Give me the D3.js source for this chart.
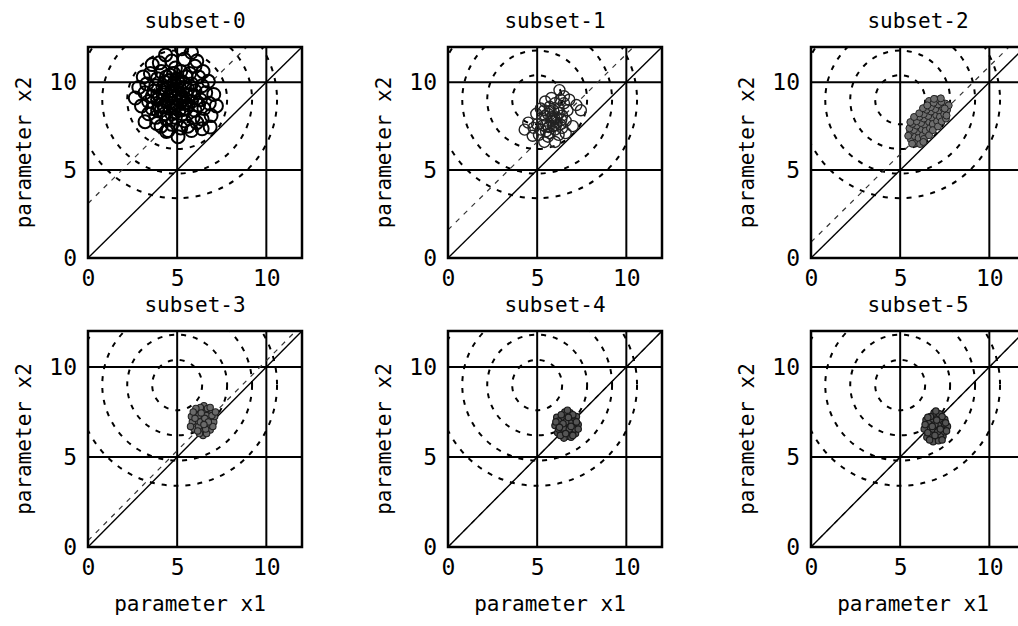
<!DOCTYPE html>
<html>
<head>
<meta charset="utf-8">
<script src="https://cdn.jsdelivr.net/npm/d3@7"></script>
<style>
  html, body { margin: 0; padding: 0; background: #fff; }
  svg { display: block; }
</style>
</head>
<body>
<script>
// ---------------- data ----------------
const subsetTitles = ["subset-0", "subset-1", "subset-2", "subset-3", "subset-4", "subset-5"];
const tickValues = [0, 5, 10];
const gridValues = [5, 10];
const axisDomain = [0, 12];
const contourCenter = [5, 9];
const contourRadii = [1.4, 2.8, 4.2, 5.6];
const thresholdOffsets = [3.1, 1.6, 0.9, 0.35, 0, 0];
const xLabel = "parameter x1";
const yLabel = "parameter x2";

const samplesSubset0 = [
  [3.1,10.3],[2.85,9.7],[2.65,9.1],[3.0,8.65],[3.2,7.75],[3.85,7.65],[4.5,7.25],[5.05,6.9],[5.8,7.25],[6.4,7.35],
  [6.85,7.45],[7.2,8.65],[7.05,9.3],[6.75,10.05],[6.45,10.6],[5.8,11.7],[4.35,11.55],[3.6,11.0],[5.25,11.9],[6.1,11.2],
  [3.4,8.2],[6.9,8.1],
  [4.0,11.1],[4.7,11.2],[5.4,11.3],[6.0,10.9],[4.9,10.8],
  [3.5,10.5],[4.1,10.6],[4.6,10.4],[5.2,10.6],[5.7,10.5],[6.2,10.3],[3.9,10.2],[5.0,10.2],
  [3.3,9.9],[3.8,9.8],[4.3,10.0],[4.8,9.9],[5.3,10.0],[5.8,9.9],[6.4,9.8],[4.5,9.7],[5.6,9.6],
  [3.2,9.4],[3.7,9.5],[4.2,9.4],[4.7,9.5],[5.1,9.4],[5.5,9.3],[6.0,9.5],[6.6,9.4],[4.0,9.2],[4.9,9.1],
  [3.4,8.9],[3.9,9.0],[4.4,8.9],[4.8,8.8],[5.3,9.0],[5.8,8.9],[6.3,9.0],[6.8,8.8],[4.6,9.2],[5.6,8.7],
  [3.6,8.5],[4.1,8.4],[4.6,8.5],[5.1,8.4],[5.5,8.5],[6.0,8.4],[6.5,8.5],[4.3,8.2],[5.3,8.2],
  [3.8,8.0],[4.4,7.9],[4.9,8.0],[5.4,7.8],[5.9,8.0],[6.4,7.9],[4.7,7.6],[5.6,7.5],[6.1,7.7],
  [4.1,7.5],[5.2,7.4],[4.4,7.2],
  [4.5,9.0],[5.0,9.6],[4.2,9.7],[5.4,9.7],[4.7,8.2],[5.0,8.7],[4.0,8.7],[5.9,9.2],[4.4,10.3],[5.5,10.3],
  [3.6,9.2],[6.2,8.7],[5.2,8.9],[4.8,10.5],[3.9,8.4],
  [4.65,9.35],[5.25,9.2],[4.85,8.55],[5.45,8.85],[4.35,9.55],[5.05,10.0],[4.55,10.1],[5.75,9.3],[4.25,8.65],[5.35,8.45]
];
const samplesSubset1 = [
  [6.25,9.55],[6.5,9.2],[6.8,9.0],[7.2,8.7],[7.45,8.4],[4.5,7.7],[4.3,7.3],[4.75,6.95],[5.4,6.6],[6.0,6.6],
  [6.6,7.1],[7.0,7.5],[4.95,8.2],[5.45,8.9],[5.8,9.1],
  [5.2,7.3],[5.5,7.6],[5.8,7.8],[6.1,8.0],[6.3,7.6],[5.6,8.2],[5.9,8.4],[6.2,8.5],[5.3,7.9],[5.0,7.6],
  [5.7,7.1],[6.0,7.3],[6.4,8.1],[6.6,7.8],[5.4,8.4],[5.9,7.5],[6.2,7.0],[5.1,7.0],[6.7,8.4],[5.6,6.9],
  [6.0,8.8],[5.2,8.5],[4.8,7.4],[6.5,8.8],[5.7,8.6],[6.3,9.0],[5.5,7.2],[6.1,7.7],[5.8,8.0],[6.4,7.4],
  [5.65,7.45],[5.95,7.95],[6.25,8.25],[5.35,7.55],[6.05,7.55],[5.75,8.35],[6.35,7.85],[5.45,8.1]
];
const samplesSubset2 = [
  [5.6,6.75],[5.82,6.93],[6.0,7.18],[6.21,7.33],[6.38,7.57],[6.62,7.74],[6.79,7.98],[7.02,8.13],[7.18,8.38],[7.41,8.53],[7.54,8.78],
  [5.55,7.12],[5.77,7.28],[5.93,7.53],[6.17,7.68],[6.33,7.93],[6.57,8.08],[6.73,8.33],[6.97,8.47],[7.13,8.73],[7.31,8.88],[7.02,9.02],[6.62,8.93],
  [5.82,6.53],[6.03,6.82],[6.27,6.98],[6.43,7.23],[6.67,7.38],[6.83,7.62],[7.07,7.78],[7.23,8.03],[7.47,8.18],[7.63,8.42],[7.72,8.68],
  [5.52,7.38],[5.68,7.63],[5.92,7.78],[6.08,8.03],[6.32,8.18],[6.48,8.43],[6.72,8.58],[6.88,8.83],[7.28,9.08],
  [6.12,6.48],[6.33,6.77],[6.62,6.98],[6.83,7.27],[7.12,7.48],[7.33,7.77],[7.57,7.93],
  [5.57,7.73],[5.78,8.02],[6.07,8.23],[6.28,8.52],[6.52,8.68],
  [5.45,6.95],[5.67,6.5],[6.3,6.6],[7.6,8.1],[6.9,9.05],[7.5,8.5]
];
const samplesSubset3 = [
  [6.43,7.0],[6.1,7.0],[6.8,7.05],[6.45,7.6],[6.4,6.4],[5.85,6.95],[7.05,6.95],[6.0,7.45],[6.9,7.5],[5.95,6.55],
  [6.85,6.5],[6.2,7.3],[6.65,7.3],[6.2,6.7],[6.7,6.75],[6.5,7.85],[6.45,6.2],[5.8,7.25],[7.1,7.25],[5.75,6.7],
  [7.0,6.7],[6.3,7.75],[6.7,7.7],[6.25,6.3],[6.65,6.3],[6.05,7.7],[6.95,7.3],[6.3,6.95],[6.55,7.15],[6.15,6.45],
  [6.75,6.95],[6.6,6.55],[6.0,7.15],[6.35,7.45],[6.85,7.75],[5.9,7.5],[6.5,6.8],[7.15,7.5]
];
const samplesSubset4 = [
  [6.67,6.77],[6.3,6.8],[7.05,6.75],[6.65,7.4],[6.7,6.15],[6.0,6.75],[7.3,6.8],[6.1,7.2],[7.2,7.25],[6.15,6.35],
  [7.15,6.3],[6.4,7.15],[6.95,7.15],[6.4,6.4],[6.95,6.4],[6.55,7.5],[6.85,7.45],[6.5,6.05],[6.9,6.1],[6.2,7.0],
  [7.1,7.0],[6.2,6.55],[7.1,6.55],[6.5,6.6],[6.85,6.9],[6.6,6.95],[6.8,6.55],[6.35,7.35],[7.0,7.35],[6.3,6.2],
  [7.0,6.2],[6.05,6.95],[7.3,6.55],[6.45,6.85],[6.75,7.2],[6.6,6.3],[6.9,6.7],[6.25,6.65],[7.2,6.95],[6.7,7.6]
];
const samplesSubset5 = [
  [7.0,6.6],[6.6,6.6],[7.4,6.65],[7.05,7.3],[6.95,5.95],[6.35,6.55],[7.65,6.7],[6.45,7.05],[7.5,7.1],[6.5,6.1],
  [7.4,6.15],[6.75,7.0],[7.25,6.95],[6.75,6.25],[7.25,6.25],[6.9,7.45],[7.2,7.4],[6.85,5.85],[7.15,5.9],[6.6,6.85],
  [7.45,6.85],[6.55,6.35],[7.5,6.4],[6.85,6.55],[7.15,6.75],[6.95,6.8],[7.1,6.4],[6.7,7.25],[7.35,7.25],[6.65,5.95],
  [7.35,5.95],[6.4,6.8],[7.6,6.45],[6.8,6.7],[7.05,7.05],[6.95,6.2],[7.25,6.55],[6.55,7.2],[7.55,6.9],[7.0,7.55]
];
const allSamples = [samplesSubset0, samplesSubset1, samplesSubset2, samplesSubset3, samplesSubset4, samplesSubset5];

// ---------------- layout / style ----------------
const W = 1018, H = 626;
const colLefts = [88, 448, 811];
const rowTops = [47, 331];
const rowHeights = [211, 216];
const panelW = 214;
const markerR = [6.5, 5.5, 3.5, 3.2, 3.2, 3.2];
const markerStroke = ["#000", "#222", "#222", "#222", "#1a1a1a", "#1a1a1a"];
const markerFill = ["none", "none", "#6e6e6e", "#6a6a6a", "#555", "#555"];
const markerWidth = [2.0, 1.4, 1.0, 1.1, 1.2, 1.2];
const FONT = "'DejaVu Sans Mono', 'Liberation Mono', monospace";

const svg = d3.select("body").append("svg")
  .attr("width", W).attr("height", H)
  .style("background", "#fff");

subsetTitles.forEach((title, i) => {
  const col = i % 3, row = Math.floor(i / 3);
  const left = colLefts[col], top = rowTops[row], h = rowHeights[row];
  const x = d3.scaleLinear().domain(axisDomain).range([left, left + panelW]);
  const y = d3.scaleLinear().domain(axisDomain).range([top + h, top]);
  const g = svg.append("g");

  const clipId = "clip" + i;
  svg.append("clipPath").attr("id", clipId)
    .append("rect").attr("x", left).attr("y", top).attr("width", panelW).attr("height", h);

  const inner = g.append("g").attr("clip-path", `url(#${clipId})`);

  // dashed contours
  inner.selectAll("ellipse.contour").data(contourRadii).join("ellipse")
    .attr("class", "contour")
    .attr("cx", x(contourCenter[0])).attr("cy", y(contourCenter[1]))
    .attr("rx", d => x(contourCenter[0] + d) - x(contourCenter[0]))
    .attr("ry", d => y(contourCenter[1]) - y(contourCenter[1] + d))
    .attr("fill", "none").attr("stroke", "#000")
    .attr("stroke-width", 2).attr("stroke-dasharray", "5,7");

  // grid lines
  inner.selectAll("line.gx").data(gridValues).join("line")
    .attr("x1", d => x(d)).attr("x2", d => x(d))
    .attr("y1", y(axisDomain[0])).attr("y2", y(axisDomain[1]))
    .attr("stroke", "#000").attr("stroke-width", 2);
  inner.selectAll("line.gy").data(gridValues).join("line")
    .attr("y1", d => y(d)).attr("y2", d => y(d))
    .attr("x1", x(axisDomain[0])).attr("x2", x(axisDomain[1]))
    .attr("stroke", "#000").attr("stroke-width", 2);

  // threshold dashed line y = x + c
  const c = thresholdOffsets[i];
  inner.append("line")
    .attr("x1", x(0)).attr("y1", y(c))
    .attr("x2", x(12 - c)).attr("y2", y(12))
    .attr("stroke", "#333").attr("stroke-width", 1.2)
    .attr("stroke-dasharray", "5,6");

  // diagonal y = x
  inner.append("line")
    .attr("x1", x(0)).attr("y1", y(0))
    .attr("x2", x(12)).attr("y2", y(12))
    .attr("stroke", "#000").attr("stroke-width", 1.4);

  // samples
  inner.selectAll("circle.s").data(allSamples[i]).join("circle")
    .attr("cx", d => x(d[0])).attr("cy", d => y(d[1]))
    .attr("r", markerR[i])
    .attr("fill", markerFill[i])
    .attr("stroke", markerStroke[i])
    .attr("stroke-width", markerWidth[i]);

  // frame
  g.append("rect")
    .attr("x", left).attr("y", top).attr("width", panelW).attr("height", h)
    .attr("fill", "none").attr("stroke", "#000").attr("stroke-width", 2.5);

  // axes
  const ax = g.append("g").attr("transform", `translate(0,${top + h})`)
    .call(d3.axisBottom(x).tickValues(tickValues).tickSize(0).tickPadding(12).tickFormat(d3.format("d")));
  ax.select(".domain").remove();
  const ay = g.append("g").attr("transform", `translate(${left},0)`)
    .call(d3.axisLeft(y).tickValues(tickValues).tickSize(0).tickPadding(11).tickFormat(d3.format("d")));
  ay.select(".domain").remove();
  g.selectAll(".tick text")
    .attr("fill", "#000")
    .style("font-family", FONT).style("font-size", "23px");

  // title
  g.append("text")
    .attr("x", left + panelW / 2).attr("y", top - 19)
    .attr("text-anchor", "middle")
    .style("font-family", FONT).style("font-size", "21px")
    .text(title);

  // y label
  g.append("text")
    .attr("transform", `translate(${left - 64},${top + h / 2}) rotate(-90)`)
    .attr("text-anchor", "middle").attr("dominant-baseline", "central")
    .style("font-family", FONT).style("font-size", "21px")
    .text(yLabel);

  // x label (bottom row only)
  if (row === 1) {
    g.append("text")
      .attr("x", left + panelW / 2 - 5).attr("y", top + h + 64)
      .attr("text-anchor", "middle")
      .style("font-family", FONT).style("font-size", "21px")
      .text(xLabel);
  }
});
</script>
</body>
</html>
